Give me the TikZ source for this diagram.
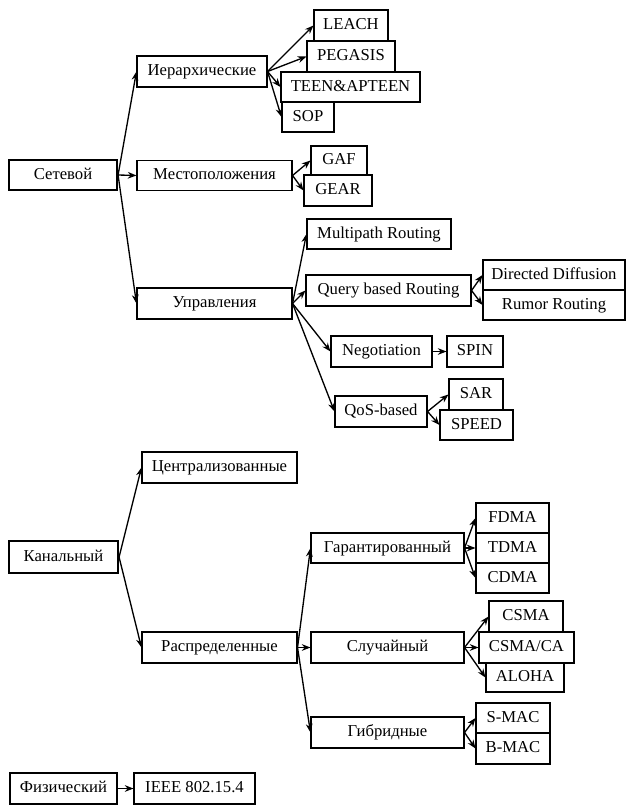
\documentclass[tikz,border=0pt]{standalone}
\usepackage{fontspec}
\setmainfont{Liberation Serif}
\usetikzlibrary{arrows.meta}
\tikzset{
  box/.style={draw, line width=0.8pt, rectangle, inner sep=0pt, text height=0.66em, text depth=0pt, font=\fontsize{12.5}{14}\selectfont},
  mainbox/.style={box, line width=1.6pt},
  sz/.style 2 args={minimum width=#1*0.75pt, minimum height=#2*0.75pt},
  arr/.style={-{Stealth[length=6.5pt,width=5pt]}, line width=1pt}
}
\begin{document}
\begin{tikzpicture}[x=0.75pt,y=-0.75pt]
\useasboundingbox (0,0) rectangle (626,805);
% network layer
\node[mainbox,sz={108}{30}] (set) at (63,175) {Сетевой};
\node[box,sz={130}{31}] (ier) at (202,71.5) {Иерархические};
\node[box,sz={155}{30}] (mest) at (214.5,175.5) {Местоположения};
\node[box,sz={155}{31}] (upr) at (214.5,303.5) {Управления};
\node[box,sz={74}{31}] (leach) at (351,25.5) {LEACH};
\node[box,sz={88}{31}] (peg) at (351,56.5) {PEGASIS};
\node[box,sz={139}{30}] (teen) at (350.5,87) {TEEN\&APTEEN};
\node[box,sz={52}{30}] (sop) at (308,117) {SOP};
\node[box,sz={56}{29}] (gaf) at (339,160.5) {GAF};
\node[box,sz={68}{31}] (gear) at (338,190.5) {GEAR};
\node[box,sz={144}{30}] (multi) at (379,234) {Multipath Routing};
\node[box,sz={165}{31}] (query) at (388.5,290.5) {Query based Routing};
\node[box,sz={142}{30}] (dd) at (554,275) {Directed Diffusion};
\node[box,sz={142}{30}] (rumor) at (554,305) {Rumor Routing};
\node[box,sz={101}{31}] (neg) at (381.5,351.5) {Negotiation};
\node[box,sz={56}{31}] (spin) at (475,351.5) {SPIN};
\node[box,sz={92}{31}] (qos) at (381,411.5) {QoS-based};
\node[box,sz={54}{31}] (sar) at (476,394.5) {SAR};
\node[box,sz={73}{30}] (speed) at (476.5,425) {SPEED};
% channel layer
\node[mainbox,sz={109}{32}] (kan) at (63.5,557) {Канальный};
\node[box,sz={155}{31}] (centr) at (219.5,467.5) {Централизованные};
\node[box,sz={155}{31}] (raspr) at (219.5,647.5) {Распределенные};
\node[box,sz={153}{30}] (garant) at (387.5,548) {Гарантированный};
\node[box,sz={73}{30}] (fdma) at (512.5,518) {FDMA};
\node[box,sz={73}{30}] (tdma) at (512.5,548) {TDMA};
\node[box,sz={73}{30}] (cdma) at (512.5,578) {CDMA};
\node[box,sz={153}{31}] (slu) at (387.5,647.5) {Случайный};
\node[box,sz={74}{31}] (csma) at (526,616.5) {CSMA};
\node[box,sz={95}{31}] (csmaca) at (526.5,647.5) {CSMA/CA};
\node[box,sz={78}{29}] (aloha) at (525,677.5) {ALOHA};
\node[box,sz={153}{31}] (gib) at (387.5,732.5) {Гибридные};
\node[box,sz={74}{30}] (smac) at (513,718) {S-MAC};
\node[box,sz={74}{31}] (bmac) at (513,748.5) {B-MAC};
% physical layer
\node[mainbox,sz={107}{31}] (fiz) at (63.5,788.5) {Физический};
\node[box,sz={121}{31}] (ieee) at (194.5,788.5) {IEEE 802.15.4};
% connectors
\foreach \a/\b in {set/ier, set/mest, set/upr,
  ier/leach, ier/peg, ier/teen, ier/sop,
  mest/gaf, mest/gear,
  upr/multi, upr/query, upr/neg, upr/qos,
  query/dd, query/rumor, neg/spin, qos/sar, qos/speed,
  kan/centr, kan/raspr,
  raspr/garant, raspr/slu, raspr/gib,
  garant/fdma, garant/tdma, garant/cdma,
  slu/csma, slu/csmaca, slu/aloha,
  gib/smac, gib/bmac,
  fiz/ieee}
  \draw[arr] (\a.east) -- (\b.west);
\end{tikzpicture}
\end{document}
